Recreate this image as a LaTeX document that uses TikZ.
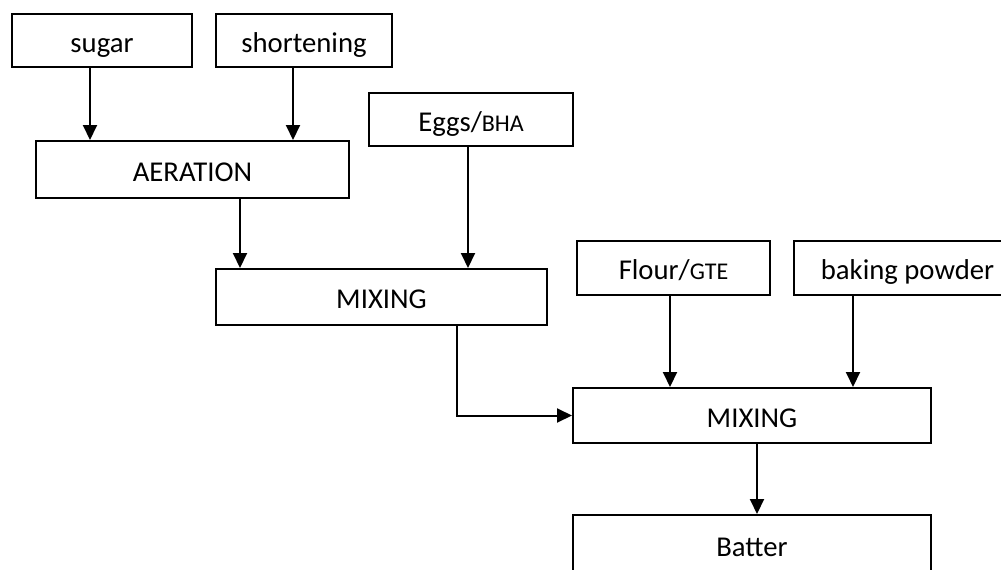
\documentclass[tikz,border=0pt]{standalone}
\usepackage{fontspec}
\setmainfont{Carlito}
\usepackage{tikz}
\usetikzlibrary{arrows.meta}

\tikzset{
  stepbox/.style={draw=black,line width=2pt,inner sep=0pt,
    text height=23pt,text depth=0pt,font=\fontsize{28.7}{34}\selectfont},
}
\newcommand{\abbr}[1]{{\fontsize{24}{29}\selectfont #1}}

\begin{document}
\begin{tikzpicture}[x=1pt,y=-1pt]
\useasboundingbox (0,0) rectangle (1001,570);
\begin{scope}[>={Triangle[length=15pt,width=14pt]},line width=2pt]

    % ingredients and steps
    \node[stepbox,minimum width=180pt,minimum height=53pt] (sugar) at (102,40.5) {sugar};
    \node[stepbox,minimum width=176pt,minimum height=53pt] (short) at (304,40.5) {shortening};
    \node[stepbox,minimum width=313pt,minimum height=57pt] (aer) at (192.5,169.5) {AERATION};
    \node[stepbox,minimum width=204pt,minimum height=53pt] (eggs) at (471,119.5) {Eggs/\abbr{BHA}};
    \node[stepbox,minimum width=331pt,minimum height=56pt] (mixa) at (381.5,297) {MIXING};
    \node[stepbox,minimum width=193pt,minimum height=54pt] (flour) at (673.5,268) {Flour/\abbr{GTE}};
    \node[stepbox,minimum width=227pt,minimum height=54pt] (bake) at (907.5,268) {baking powder};
    \node[stepbox,minimum width=358pt,minimum height=55pt] (mixb) at (752,415.5) {MIXING};
    \node[stepbox,minimum width=358pt,minimum height=60pt] (batter) at (752,545) {Batter};

    % flow
    \draw[->] ([xshift=-12pt]sugar.south) -- ([xshift=-12pt]sugar.south |- aer.north);
    \draw[->] ([xshift=-11pt]short.south) -- ([xshift=-11pt]short.south |- aer.north);
    \draw[->] ([xshift=47.5pt]aer.south) -- ([xshift=47.5pt]aer.south |- mixa.north);
    \draw[->] ([xshift=-3pt]eggs.south) -- ([xshift=-3pt]eggs.south |- mixa.north);
    \draw[->] ([xshift=-3.5pt]flour.south) -- ([xshift=-3.5pt]flour.south |- mixb.north);
    \draw[->] ([xshift=-54.5pt]bake.south) -- ([xshift=-54.5pt]bake.south |- mixb.north);
    \draw[->] ([xshift=75.5pt]mixa.south) |- (mixb.west);
    \draw[->] ([xshift=5pt]mixb.south) -- ([xshift=5pt]mixb.south |- batter.north);

\end{scope}
\end{tikzpicture}
\end{document}
